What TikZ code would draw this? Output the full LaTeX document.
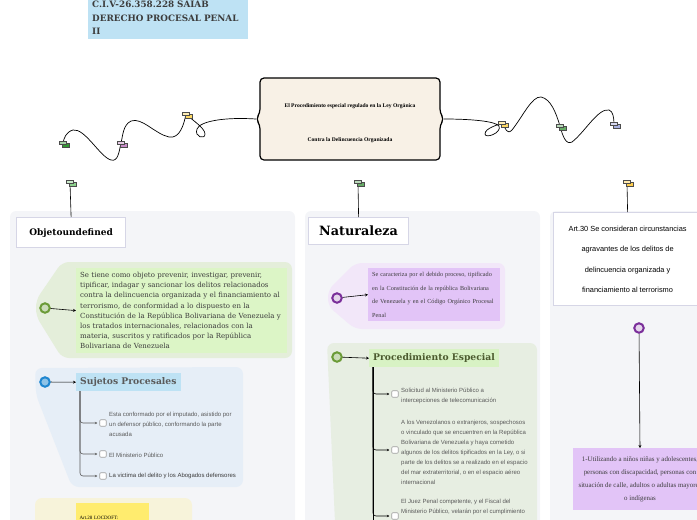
\documentclass[tikz,border=0pt]{standalone}
\usepackage{fontspec}
\setmainfont{Liberation Serif}
\setsansfont{Liberation Sans}
\newfontfamily\slab{DejaVu Serif}
\usetikzlibrary{arrows.meta,positioning}

\definecolor{pagebg}{HTML}{F4F5F8}
\definecolor{headline}{HTML}{D6D6E6}
\definecolor{cream}{HTML}{F8F1E6}
\definecolor{titleblue}{HTML}{BEE2F4}
\definecolor{leafgreen}{HTML}{DCF5C6}
\definecolor{backgreen}{HTML}{E4EEDA}
\definecolor{backgreenb}{HTML}{E7EEE2}
\definecolor{labelgreen}{HTML}{D8F2C4}
\definecolor{leafpurple}{HTML}{E2C4F7}
\definecolor{backpurple}{HTML}{F2E7F9}
\definecolor{backblue}{HTML}{E6EEF7}
\definecolor{backyellow}{HTML}{F7F3DA}
\definecolor{leafyellow}{HTML}{FFEC6E}
\definecolor{inkgray}{HTML}{3C3C3C}
\definecolor{softgray}{HTML}{5A5A5A}
\definecolor{ringgreen}{HTML}{6B9B37}
\definecolor{ringpurple}{HTML}{7A2E9A}
\definecolor{ringblue}{HTML}{1E86D0}
\definecolor{olivetext}{HTML}{4B5A2E}

\tikzset{
  column/.style={fill=pagebg, draw=none, rounded corners=6pt},
  headbox/.style={draw=headline, fill=white, line width=1.2pt, inner sep=0pt, text=black},
  backdrop/.style={draw=none, rounded corners=7pt},
  ring/.style={circle, line width=2pt, minimum size=9.5pt, inner sep=0pt},
  link/.style={-{Stealth[length=3pt,width=3pt]}, line width=0.6pt},
  branch/.style={-{Stealth[length=2.5pt,width=2.5pt]}, line width=0.6pt, rounded corners=3pt, shorten >=2pt},
  tick/.style={draw=gray!75, line width=0.6pt, rounded corners=1pt, minimum size=6.5pt, inner sep=0pt, fill=white},
  item/.style={font=\sffamily\fontsize{6}{10}\selectfont, text=softgray, anchor=west, align=left, inner sep=0pt},
  label/.style={anchor=north west, inner xsep=4pt, minimum height=18pt, font=\slab\bfseries\fontsize{9.2}{10}\selectfont},
  wave/.style={line width=0.7pt},
  tagicon/.pic={
    \draw[fill=#1, draw=black!70, line width=0.5pt] (-1,0.5) rectangle (6,4);
    \draw[fill=#1!45!white, draw=black!70, line width=0.5pt] (-4,-2) rectangle (3,1.5);
  },
}

\begin{document}
\begin{tikzpicture}[x=1pt, y=-1pt]
  \useasboundingbox (0,0) rectangle (697,520);

  \node [fill=titleblue, anchor=north west, inner sep=4pt, text width=152pt, align=left,
         font=\slab\bfseries\fontsize{8.8}{13.5}\selectfont, text=inkgray] (title) at (88,-3)
        {C.I.V-26.358.228 SAIAB\\DERECHO PROCESAL PENAL\\II};

  \draw [column] (10,211) rectangle (295,540);
  \draw [column] (305,211) rectangle (540,540);
  \draw [column] (550,211) rectangle (710,540);

  \draw [rounded corners=4pt, line width=1.2pt, fill=cream]
        (260,78) -- (440,78) -- (440,113) -- (444,119) -- (440,125) -- (440,160)
        -- (260,160) -- (260,125) -- (256,119) -- (260,113) -- cycle;
  \coordinate (ctrL) at (256,119);
  \coordinate (ctrR) at (444,119);
  \node [font=\bfseries\fontsize{5.6}{6}\selectfont] (ctrtop) at (350,106)
        {El Procedimiento especial regulado en la Ley Orgánica};
  \node [font=\bfseries\fontsize{5.6}{6}\selectfont] (ctrbot) at (350,140)
        {Contra la Delincuencia Organizada};

  \coordinate (tagA) at (186,114);
  \coordinate (tagB) at (121,143);
  \coordinate (tagC) at (63,143);
  \coordinate (tagD) at (502,123);
  \coordinate (tagE) at (560,126);
  \coordinate (tagF) at (614,124);
  \coordinate (objtag) at (70,182);
  \coordinate (nattag) at (358,182);
  \coordinate (arttag) at (627,182);

  \draw [wave] (ctrL) .. controls (225,117) and (200,121) .. (197,129)
        .. controls (194,137) and (205,140) .. (205,134)
        .. controls (205,128) and (192,120) .. (tagA)
        .. controls (184,124) and (180,139) .. (169,137)
        .. controls (155,134) and (142,117) .. (131,121)
        .. controls (123,125) and (123,135) .. (tagB)
        .. controls (119,152) and (118,162) .. (111,160)
        .. controls (100,157) and (85,128) .. (73,130)
        .. controls (66,132) and (64,138) .. (tagC);
  \draw [wave] (ctrR) .. controls (470,119) and (495,121) .. (499,126)
        .. controls (502,133) and (485,139) .. (485,134)
        .. controls (485,128) and (498,125) .. (tagD)
        .. controls (506,129) and (507,135) .. (512,130)
        .. controls (523,116) and (532,96) .. (541,97)
        .. controls (551,99) and (556,113) .. (tagE)
        .. controls (563,137) and (566,145) .. (572,142)
        .. controls (585,132) and (598,108) .. (609,110)
        .. controls (613,111) and (614,118) .. (tagF);

  \node [headbox, minimum width=109pt, minimum height=30pt, anchor=north west,
         font=\slab\bfseries\fontsize{9}{10}\selectfont] (objeto) at (16,217) {Objetoundefined};
  \node [headbox, minimum width=100pt, minimum height=27pt, anchor=north west,
         font=\slab\bfseries\fontsize{12.8}{13}\selectfont] (natur) at (308,217) {Naturaleza};
  \node [headbox, minimum width=148pt, minimum height=93pt, anchor=north west, align=center,
         font=\sffamily\fontsize{7.4}{20.5}\selectfont] (art30) at (553,212)
        {Art.30 Se consideran circunstancias\\agravantes de los delitos de\\delincuencia organizada y\\financiamiento al terrorismo};

  \draw [line width=0.6pt] (objtag) -- (objeto.north);
  \draw [line width=0.6pt] (nattag) -- (natur.north);
  \draw [line width=0.6pt] (arttag) -- (art30.north);

  \pic at (tagA) {tagicon=yellow!55!orange!60!white};
  \pic at (tagB) {tagicon=violet!45!white};
  \pic at (tagC) {tagicon=green!50!black!80!white};
  \pic at (tagD) {tagicon=yellow!55!orange!60!white};
  \pic at (tagE) {tagicon=green!45!black!60!white};
  \pic at (tagF) {tagicon=cyan!30!blue!35!white};
  \pic at (objtag) {tagicon=green!60!black!45!white};
  \pic at (nattag) {tagicon=green!45!black!60!white};
  \pic at (arttag) {tagicon=orange!55!yellow!70!white};

  % objeto
  \draw [backdrop, fill=backgreen] (36,300) -- (62,262) -- (292,262) -- (292,358) -- (62,358) -- (36,316) -- cycle;
  \node [fill=leafgreen, anchor=north west, inner xsep=4pt, inner ysep=4pt, text width=203pt, align=left,
         font=\slab\fontsize{7}{10.2}\selectfont, text=inkgray] (objtext) at (76,268)
        {Se tiene como objeto prevenir, investigar, prevenir,\\tipificar, indagar y sancionar los delitos relacionados\\contra la delincuencia organizada y el financiamiento al\\terrorismo, de conformidad a lo dispuesto en la\\Constitución de la República Bolivariana de Venezuela y\\los tratados internacionales, relacionados con la\\materia, suscritos y ratificados por la República\\Bolivariana de Venezuela};
  \node [ring, draw=ringgreen, fill=ringgreen!35!white] (objring) at (45,308) {};
  \draw [link] (objring) -- (objtext.west);

  % sujetos
  \draw [backdrop, fill=backblue] (35,368) -- (243,367) -- (243,487) -- (72,487) -- (36,395) -- cycle;
  \node [ring, draw=ringblue, fill=ringblue!50!white] (sujring) at (45,382) {};
  \node [label, fill=titleblue, text=softgray] (sujetos) at (76,373) {Sujetos Procesales};
  \draw [link] (sujring) -- (sujetos.west);
  \coordinate (sujtrunk) at (80,391);
  \node [tick] (sujA) at (103,423) {};
  \node [tick] (sujB) at (103,454) {};
  \node [tick] (sujC) at (103,476) {};
  \draw [branch, draw=softgray] (sujtrunk) |- (sujA.west);
  \draw [branch, draw=softgray] (sujtrunk) |- (sujB.west);
  \draw [branch, draw=softgray] (sujtrunk) |- (sujC.west);
  \node [item] (sujAt) at (109,424) {Esta conformado por el imputado, asistido por\\un defensor público, conformando la parte\\acusada};
  \node [item] (sujBt) at (109,455) {El Ministerio Público};
  \node [item, text=inkgray] (sujCt) at (109,476) {La victima del delito y los Abogados defensores};

  % articulo 28
  \draw [backdrop, fill=backyellow] (35,498) rectangle (192,545);
  \node [fill=leafyellow, anchor=north west, minimum width=72pt, minimum height=30pt, text width=66pt,
         align=left, font=\fontsize{5}{6}\selectfont] (art28) at (76,503) {Art.28 LOCDOFT:};

  % naturaleza
  \draw [backdrop, fill=backpurple] (328,290) -- (355,263) -- (505,263) -- (505,329) -- (355,329) -- (328,306) -- cycle;
  \node [fill=leafpurple, anchor=north west, inner xsep=4pt, inner ysep=4pt, text width=124pt, align=left,
         font=\fontsize{6.2}{13.5}\selectfont, text=inkgray] (nattext) at (368,268)
        {Se caracteriza por el debido proceso, tipificado\\en la Constitución de la república Bolivariana\\de Venezuela y en el Código Orgánico Procesal\\Penal};
  \node [ring, draw=ringpurple, fill=ringpurple!20!white] (natring) at (337,298) {};
  \draw [link] (natring) -- (nattext.west);

  % procedimiento
  \draw [backdrop, fill=backgreenb] (327,343) -- (537,343) -- (537,545) -- (336,545) -- cycle;
  \node [ring, draw=ringgreen, fill=ringgreen!35!white] (procring) at (337,357) {};
  \node [label, fill=labelgreen, text=olivetext] (proced) at (369,349) {Procedimiento Especial};
  \draw [link] (procring) -- (proced.west);
  \coordinate (proctrunk) at (373,367);
  \node [tick] (procA) at (395,394) {};
  \node [tick] (procB) at (395,450) {};
  \node [tick] (procC) at (395,516) {};
  \draw [line width=0.8pt] (proctrunk) -- (373,530);
  \draw [branch] (proctrunk) |- (procA.west);
  \draw [branch] (proctrunk) |- (procB.west);
  \draw [branch] (proctrunk) |- (procC.west);
  \node [item] (procAt) at (401,396) {Solicitud al Ministerio Público a\\intercepciones de telecomunicación};
  \node [item] (procBt) at (401,452) {A los Venezolanos o extranjeros, sospechosos\\o vinculado que se encuentren en la República\\Bolivariana de Venezuela y haya cometido\\algunos de los delitos tipificados en la Ley, o si\\parte de los delitos se a realizado en el espacio\\del mar extraterritorial, o en el espacio aéreo\\internacional};
  \node [item, anchor=north west] (procCt) at (401,499) {El Juez Penal competente, y el Fiscal del\\Ministerio Público, velarán por el cumplimiento};

  % agravantes
  \node [ring, draw=ringpurple, fill=ringpurple!20!white] (agring) at (639,328) {};
  \node [fill=leafpurple, anchor=north, minimum width=134pt, minimum height=62pt, align=center,
         font=\fontsize{6.9}{13}\selectfont, text=inkgray] (agrav) at (640,448)
        {1-Utilizando a niños niñas y adolescentes,\\personas con discapacidad, personas con\\situación de calle, adultos o adultas mayores\\o indígenas};
  \draw [link] (agring) -- (agrav.north);
\end{tikzpicture}
\end{document}
